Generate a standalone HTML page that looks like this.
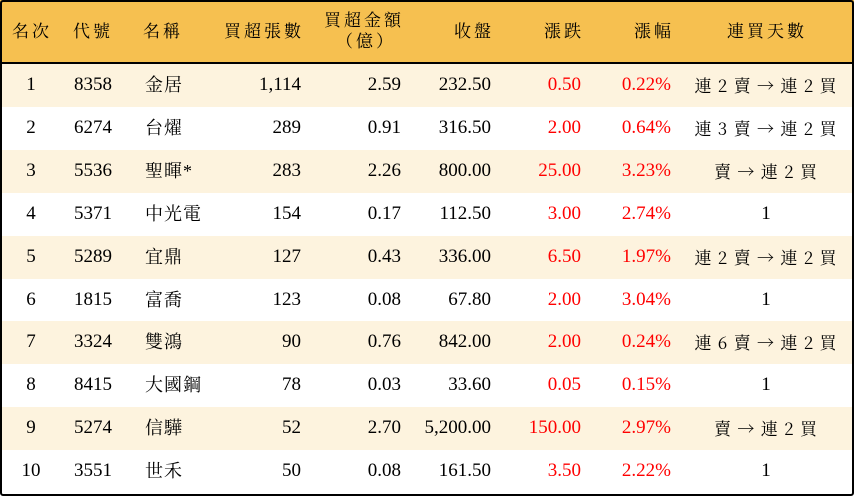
<!DOCTYPE html>
<html><head><meta charset="utf-8"><style>
*{margin:0;padding:0;box-sizing:border-box}
body{width:854px;height:496px;background:#fff;font-family:"Liberation Serif","Noto Serif CJK SC",serif;font-size:19px;color:#000;position:relative;overflow:hidden}
.frame{position:absolute;left:0;top:0;width:854px;height:496px;border:2px solid #000;border-radius:3px}
.hdr{position:absolute;left:0;top:0;width:854px;height:64px;background:#f6c050;border-bottom:2.5px solid #000}
.row{position:absolute;left:0;width:854px;height:43px}
.c{position:absolute;white-space:nowrap;line-height:22px}
.h{font-size:17px;letter-spacing:3px}
.r{color:#f00}
.n{font-size:18px;letter-spacing:1px}
.l{font-family:"Noto Serif CJK SC","Liberation Serif",serif;font-size:17px;letter-spacing:1px}
</style></head><body>
<div class="hdr">
<div class="c h" style="left:12px;top:21px">名次</div>
<div class="c h" style="left:73px;top:21px">代號</div>
<div class="c h" style="left:143px;top:21px">名稱</div>
<div class="c h" style="right:550px;top:21px">買超張數</div>
<div class="c h" style="right:450px;top:10px">買超金額</div>
<div class="c h" style="right:458px;top:31px">（億）</div>
<div class="c h" style="right:360px;top:21px">收盤</div>
<div class="c h" style="right:270px;top:21px">漲跌</div>
<div class="c h" style="right:180px;top:21px">漲幅</div>
<div class="c h" style="left:727px;top:21px">連買天數</div>
</div>
<div id="rows"></div>
<script>
var d=[["1","8358","金居","1,114","2.59","232.50","0.50","0.22%","連 2 賣 → 連 2 買"],
["2","6274","台燿","289","0.91","316.50","2.00","0.64%","連 3 賣 → 連 2 買"],
["3","5536","聖暉*","283","2.26","800.00","25.00","3.23%","賣 → 連 2 買"],
["4","5371","中光電","154","0.17","112.50","3.00","2.74%","1"],
["5","5289","宜鼎","127","0.43","336.00","6.50","1.97%","連 2 賣 → 連 2 買"],
["6","1815","富喬","123","0.08","67.80","2.00","3.04%","1"],
["7","3324","雙鴻","90","0.76","842.00","2.00","0.24%","連 6 賣 → 連 2 買"],
["8","8415","大國鋼","78","0.03","33.60","0.05","0.15%","1"],
["9","5274","信驊","52","2.70","5,200.00","150.00","2.97%","賣 → 連 2 買"],
["10","3551","世禾","50","0.08","161.50","3.50","2.22%","1"]];
var h="";
d.forEach(function(r,i){
var top=64+i*42.9;
var last=r[8]=="1"?'<div class="c" style="left:680px;width:172px;text-align:center;top:10px">1</div>':'<div class="c l" style="left:680px;width:172px;text-align:center;top:10px">'+r[8]+'</div>';
h+='<div class="row" style="top:'+top+'px;background:'+(i%2==0?'#fdf3de':'#fff')+'">'+
'<div class="c" style="left:0;width:62px;text-align:center;top:10px">'+r[0]+'</div>'+
'<div class="c" style="left:74px;top:10px">'+r[1]+'</div>'+
'<div class="c n" style="left:145px;top:10px">'+r[2]+'</div>'+
'<div class="c" style="right:553px;top:10px">'+r[3]+'</div>'+
'<div class="c" style="right:453px;top:10px">'+r[4]+'</div>'+
'<div class="c" style="right:363px;top:10px">'+r[5]+'</div>'+
'<div class="c r" style="right:273px;top:10px">'+r[6]+'</div>'+
'<div class="c r" style="right:183px;top:10px">'+r[7]+'</div>'+
last+'</div>';
});
document.getElementById("rows").innerHTML=h;
</script>
<div class="frame"></div>
</body></html>
